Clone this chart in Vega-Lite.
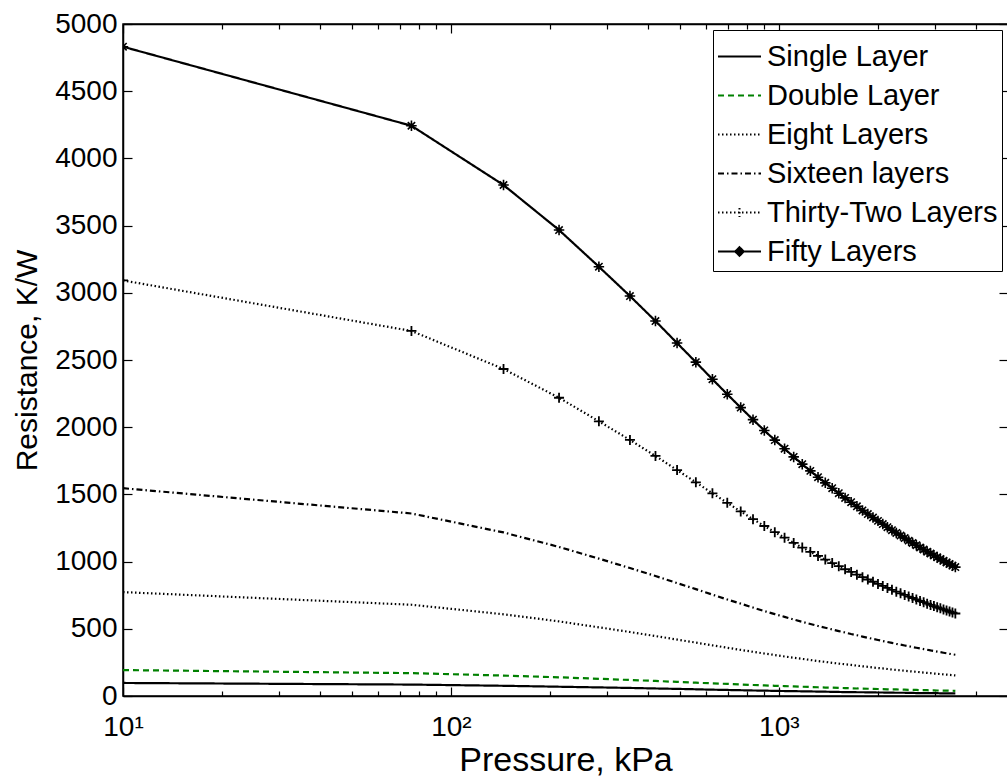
{
  "$schema": "https://vega.github.io/schema/vega-lite/v6.json",
  "autosize": {"type": "none"},
  "padding": {"left": 123, "top": 24, "right": 0, "bottom": 86},
  "width": 885,
  "height": 672,
  "background": "white",
  "config": {
    "font": "Liberation Sans",
    "view": {"stroke": "black", "strokeWidth": 1.5},
    "axis": {
      "grid": false,
      "domainColor": "black",
      "domainWidth": 1.5,
      "tickColor": "black",
      "tickWidth": 1.2,
      "labelColor": "black",
      "labelFont": "Liberation Sans",
      "labelFontSize": 28,
      "titleFont": "Liberation Sans",
      "titleColor": "black",
      "titleFontWeight": "normal"
    },
    "legend": {
      "labelFont": "Liberation Sans",
      "labelColor": "black"
    }
  },
  "data": {
    "values": [
      {"P": 10, "s1": 97, "s2": 193, "s8": 773, "s16": 1546, "s32": 3092, "s50": 4831},
      {"P": 75.8, "s1": 85, "s2": 170, "s8": 679, "s16": 1358, "s32": 2716, "s50": 4243},
      {"P": 144.7, "s1": 76, "s2": 152, "s8": 608, "s16": 1217, "s32": 2433, "s50": 3802},
      {"P": 213.7, "s1": 69, "s2": 139, "s8": 555, "s16": 1109, "s32": 2219, "s50": 3467},
      {"P": 282.7, "s1": 64, "s2": 128, "s8": 511, "s16": 1022, "s32": 2044, "s50": 3194},
      {"P": 351.6, "s1": 60, "s2": 119, "s8": 476, "s16": 952, "s32": 1905, "s50": 2976},
      {"P": 420.6, "s1": 56, "s2": 112, "s8": 446, "s16": 893, "s32": 1786, "s50": 2790},
      {"P": 489.5, "s1": 53, "s2": 105, "s8": 420, "s16": 840, "s32": 1681, "s50": 2626},
      {"P": 558.5, "s1": 50, "s2": 99, "s8": 397, "s16": 795, "s32": 1590, "s50": 2484},
      {"P": 627.4, "s1": 47, "s2": 94, "s8": 377, "s16": 754, "s32": 1508, "s50": 2357},
      {"P": 696.4, "s1": 45, "s2": 90, "s8": 359, "s16": 718, "s32": 1437, "s50": 2245},
      {"P": 765.3, "s1": 43, "s2": 86, "s8": 343, "s16": 687, "s32": 1373, "s50": 2146},
      {"P": 834.3, "s1": 41, "s2": 82, "s8": 329, "s16": 658, "s32": 1316, "s50": 2056},
      {"P": 903.2, "s1": 40, "s2": 79, "s8": 316, "s16": 632, "s32": 1265, "s50": 1976},
      {"P": 972.2, "s1": 38, "s2": 76, "s8": 305, "s16": 609, "s32": 1219, "s50": 1904},
      {"P": 1041.2, "s1": 37, "s2": 74, "s8": 294, "s16": 589, "s32": 1178, "s50": 1840},
      {"P": 1110.1, "s1": 36, "s2": 71, "s8": 285, "s16": 569, "s32": 1139, "s50": 1779},
      {"P": 1179.1, "s1": 35, "s2": 69, "s8": 276, "s16": 552, "s32": 1104, "s50": 1725},
      {"P": 1248.0, "s1": 34, "s2": 67, "s8": 268, "s16": 536, "s32": 1072, "s50": 1675},
      {"P": 1317.0, "s1": 33, "s2": 65, "s8": 260, "s16": 521, "s32": 1042, "s50": 1628},
      {"P": 1385.9, "s1": 32, "s2": 63, "s8": 254, "s16": 508, "s32": 1015, "s50": 1586},
      {"P": 1454.9, "s1": 31, "s2": 62, "s8": 247, "s16": 495, "s32": 989, "s50": 1546},
      {"P": 1523.8, "s1": 30, "s2": 60, "s8": 241, "s16": 483, "s32": 966, "s50": 1509},
      {"P": 1592.8, "s1": 29, "s2": 59, "s8": 236, "s16": 472, "s32": 943, "s50": 1474},
      {"P": 1661.7, "s1": 29, "s2": 58, "s8": 231, "s16": 461, "s32": 923, "s50": 1442},
      {"P": 1730.7, "s1": 28, "s2": 56, "s8": 226, "s16": 452, "s32": 903, "s50": 1411},
      {"P": 1799.6, "s1": 28, "s2": 55, "s8": 221, "s16": 442, "s32": 884, "s50": 1381},
      {"P": 1868.6, "s1": 27, "s2": 54, "s8": 217, "s16": 433, "s32": 867, "s50": 1354},
      {"P": 1937.5, "s1": 27, "s2": 53, "s8": 212, "s16": 425, "s32": 850, "s50": 1328},
      {"P": 2006.5, "s1": 26, "s2": 52, "s8": 208, "s16": 417, "s32": 834, "s50": 1303},
      {"P": 2075.4, "s1": 26, "s2": 51, "s8": 205, "s16": 409, "s32": 819, "s50": 1279},
      {"P": 2144.4, "s1": 25, "s2": 50, "s8": 201, "s16": 402, "s32": 804, "s50": 1256},
      {"P": 2213.3, "s1": 25, "s2": 49, "s8": 197, "s16": 395, "s32": 790, "s50": 1234},
      {"P": 2282.3, "s1": 24, "s2": 49, "s8": 194, "s16": 388, "s32": 776, "s50": 1213},
      {"P": 2351.2, "s1": 24, "s2": 48, "s8": 191, "s16": 382, "s32": 764, "s50": 1194},
      {"P": 2420.2, "s1": 24, "s2": 47, "s8": 188, "s16": 376, "s32": 752, "s50": 1175},
      {"P": 2489.1, "s1": 23, "s2": 46, "s8": 185, "s16": 370, "s32": 740, "s50": 1156},
      {"P": 2558.1, "s1": 23, "s2": 46, "s8": 182, "s16": 364, "s32": 729, "s50": 1139},
      {"P": 2627.0, "s1": 22, "s2": 45, "s8": 180, "s16": 359, "s32": 718, "s50": 1122},
      {"P": 2696.0, "s1": 22, "s2": 44, "s8": 177, "s16": 354, "s32": 707, "s50": 1105},
      {"P": 2764.9, "s1": 22, "s2": 44, "s8": 174, "s16": 349, "s32": 698, "s50": 1090},
      {"P": 2833.9, "s1": 21, "s2": 43, "s8": 172, "s16": 344, "s32": 687, "s50": 1074},
      {"P": 2902.8, "s1": 21, "s2": 42, "s8": 170, "s16": 339, "s32": 678, "s50": 1060},
      {"P": 2971.8, "s1": 21, "s2": 42, "s8": 167, "s16": 335, "s32": 669, "s50": 1046},
      {"P": 3040.7, "s1": 21, "s2": 41, "s8": 165, "s16": 330, "s32": 660, "s50": 1032},
      {"P": 3109.7, "s1": 20, "s2": 41, "s8": 163, "s16": 326, "s32": 652, "s50": 1019},
      {"P": 3178.6, "s1": 20, "s2": 40, "s8": 161, "s16": 322, "s32": 644, "s50": 1006},
      {"P": 3247.6, "s1": 20, "s2": 40, "s8": 159, "s16": 318, "s32": 636, "s50": 994},
      {"P": 3316.5, "s1": 20, "s2": 39, "s8": 157, "s16": 314, "s32": 628, "s50": 982},
      {"P": 3385.5, "s1": 19, "s2": 39, "s8": 155, "s16": 310, "s32": 621, "s50": 970},
      {"P": 3454.4, "s1": 19, "s2": 38, "s8": 153, "s16": 307, "s32": 614, "s50": 959}
    ]
  },
  "transform": [
    {"fold": ["s1", "s2", "s8", "s16", "s32", "s50"], "as": ["series", "R"]}
  ],
  "layer": [
    {
      "mark": {"type": "line", "strokeWidth": 2.2, "clip": true},
      "encoding": {
        "x": {
          "field": "P", "type": "quantitative",
          "scale": {"type": "log", "domain": [10, 5000], "nice": false},
          "axis": {
            "orient": "bottom",
            "title": "Pressure, kPa",
            "titleFontSize": 34,
            "titlePadding": -2,
            "values": [10, 20, 30, 40, 50, 60, 70, 80, 90, 100, 200, 300, 400, 500, 600, 700, 800, 900, 1000, 2000, 3000, 4000],
            "labelExpr": "datum.value == 10 ? '10¹' : datum.value == 100 ? '10²' : datum.value == 1000 ? '10³' : ''",
            "labelOverlap": false,
            "labelFlush": false,
            "labelBound": false,
            "tickSize": {"condition": {"test": "datum.value == 10 || datum.value == 100 || datum.value == 1000", "value": -9}, "value": -5},
            "labelPadding": 26
          }
        },
        "y": {
          "field": "R", "type": "quantitative",
          "scale": {"domain": [0, 5000], "nice": false},
          "axis": {
            "orient": "left",
            "title": "Resistance, K/W",
            "titleFontSize": 30,
            "titlePadding": 12,
            "format": "d",
            "values": [0, 500, 1000, 1500, 2000, 2500, 3000, 3500, 4000, 4500, 5000],
            "tickSize": -9,
            "labelPadding": 15,
            "labelOverlap": false,
            "labelFlush": false
          }
        },
        "color": {
          "field": "series", "type": "nominal",
          "scale": {"domain": ["s1", "s2", "s8", "s16", "s32", "s50"], "range": ["black", "#008000", "black", "black", "black", "black"]},
          "legend": {
            "orient": "top-right",
            "offset": 6,
            "title": null,
            "symbolType": "stroke",
            "symbolSize": 1849,
            "symbolStrokeWidth": 2,
            "labelFontSize": 29,
            "labelLimit": 400,
            "labelOffset": 5,
            "rowPadding": 1,
            "padding": 4,
            "strokeColor": "black",
            "fillColor": "white",
            "labelExpr": "{'s1': 'Single Layer', 's2': 'Double Layer', 's8': 'Eight Layers', 's16': 'Sixteen layers', 's32': 'Thirty-Two Layers', 's50': 'Fifty Layers'}[datum.label]",
            "encode": {
              "symbols": {
                "update": {
                  "shape": {"signal": "datum.value == 's32' ? 'M-1,0L1,0M0,-0.21L0,0.21' : datum.value == 's50' ? 'M-1,0L1,0M-0.2,0L0,-0.2L0.2,0L0,0.2Z' : 'stroke'"},
                  "fill": {"signal": "datum.value == 's50' ? 'black' : 'transparent'"}
                }
              }
            }
          }
        },
        "strokeDash": {
          "field": "series", "type": "nominal",
          "scale": {"domain": ["s1", "s2", "s8", "s16", "s32", "s50"], "range": [[1, 0], [6, 4], [1.5, 2.5], [6, 3, 1.5, 3], [1.5, 2.5], [1, 0]]},
          "legend": {
            "orient": "top-right",
            "offset": 6,
            "title": null,
            "symbolType": "stroke",
            "symbolSize": 1849,
            "symbolStrokeWidth": 2,
            "labelFontSize": 29,
            "labelLimit": 400,
            "labelOffset": 5,
            "rowPadding": 1,
            "padding": 4,
            "strokeColor": "black",
            "fillColor": "white",
            "labelExpr": "{'s1': 'Single Layer', 's2': 'Double Layer', 's8': 'Eight Layers', 's16': 'Sixteen layers', 's32': 'Thirty-Two Layers', 's50': 'Fifty Layers'}[datum.label]",
            "encode": {
              "symbols": {
                "update": {
                  "shape": {"signal": "datum.value == 's32' ? 'M-1,0L1,0M0,-0.21L0,0.21' : datum.value == 's50' ? 'M-1,0L1,0M-0.2,0L0,-0.2L0.2,0L0,0.2Z' : 'stroke'"},
                  "fill": {"signal": "datum.value == 's50' ? 'black' : 'transparent'"}
                }
              }
            }
          }
        }
      }
    },
    {
      "transform": [{"filter": "datum.series == 's32'"}],
      "mark": {"type": "point", "shape": "M-1,0L1,0M0,-1L0,1", "filled": false, "stroke": "black", "strokeWidth": 1.8, "size": 100, "opacity": 1, "clip": true},
      "encoding": {
        "x": {
          "field": "P", "type": "quantitative",
          "axis": {
            "orient": "top", "title": null, "labels": false,
            "values": [10, 20, 30, 40, 50, 60, 70, 80, 90, 100, 200, 300, 400, 500, 600, 700, 800, 900, 1000, 2000, 3000, 4000],
            "tickSize": {"condition": {"test": "datum.value == 10 || datum.value == 100 || datum.value == 1000", "value": -9}, "value": -5}
          }
        },
        "y": {
          "field": "R", "type": "quantitative",
          "axis": {
            "orient": "right", "title": null, "labels": false,
            "values": [0, 500, 1000, 1500, 2000, 2500, 3000, 3500, 4000, 4500, 5000],
            "tickSize": -9
          }
        }
      }
    },
    {
      "transform": [{"filter": "datum.series == 's50'"}],
      "mark": {"type": "point", "shape": "M-1,0L1,0M0,-1L0,1M-0.7,-0.7L0.7,0.7M-0.7,0.7L0.7,-0.7M-0.45,0L0,-0.45L0.45,0L0,0.45Z", "filled": true, "fill": "black", "stroke": "black", "strokeWidth": 1.6, "size": 110, "opacity": 1, "clip": true},
      "encoding": {
        "x": {"field": "P", "type": "quantitative", "axis": null},
        "y": {"field": "R", "type": "quantitative", "axis": null}
      }
    }
  ],
  "resolve": {"axis": {"x": "independent", "y": "independent"}}
}
